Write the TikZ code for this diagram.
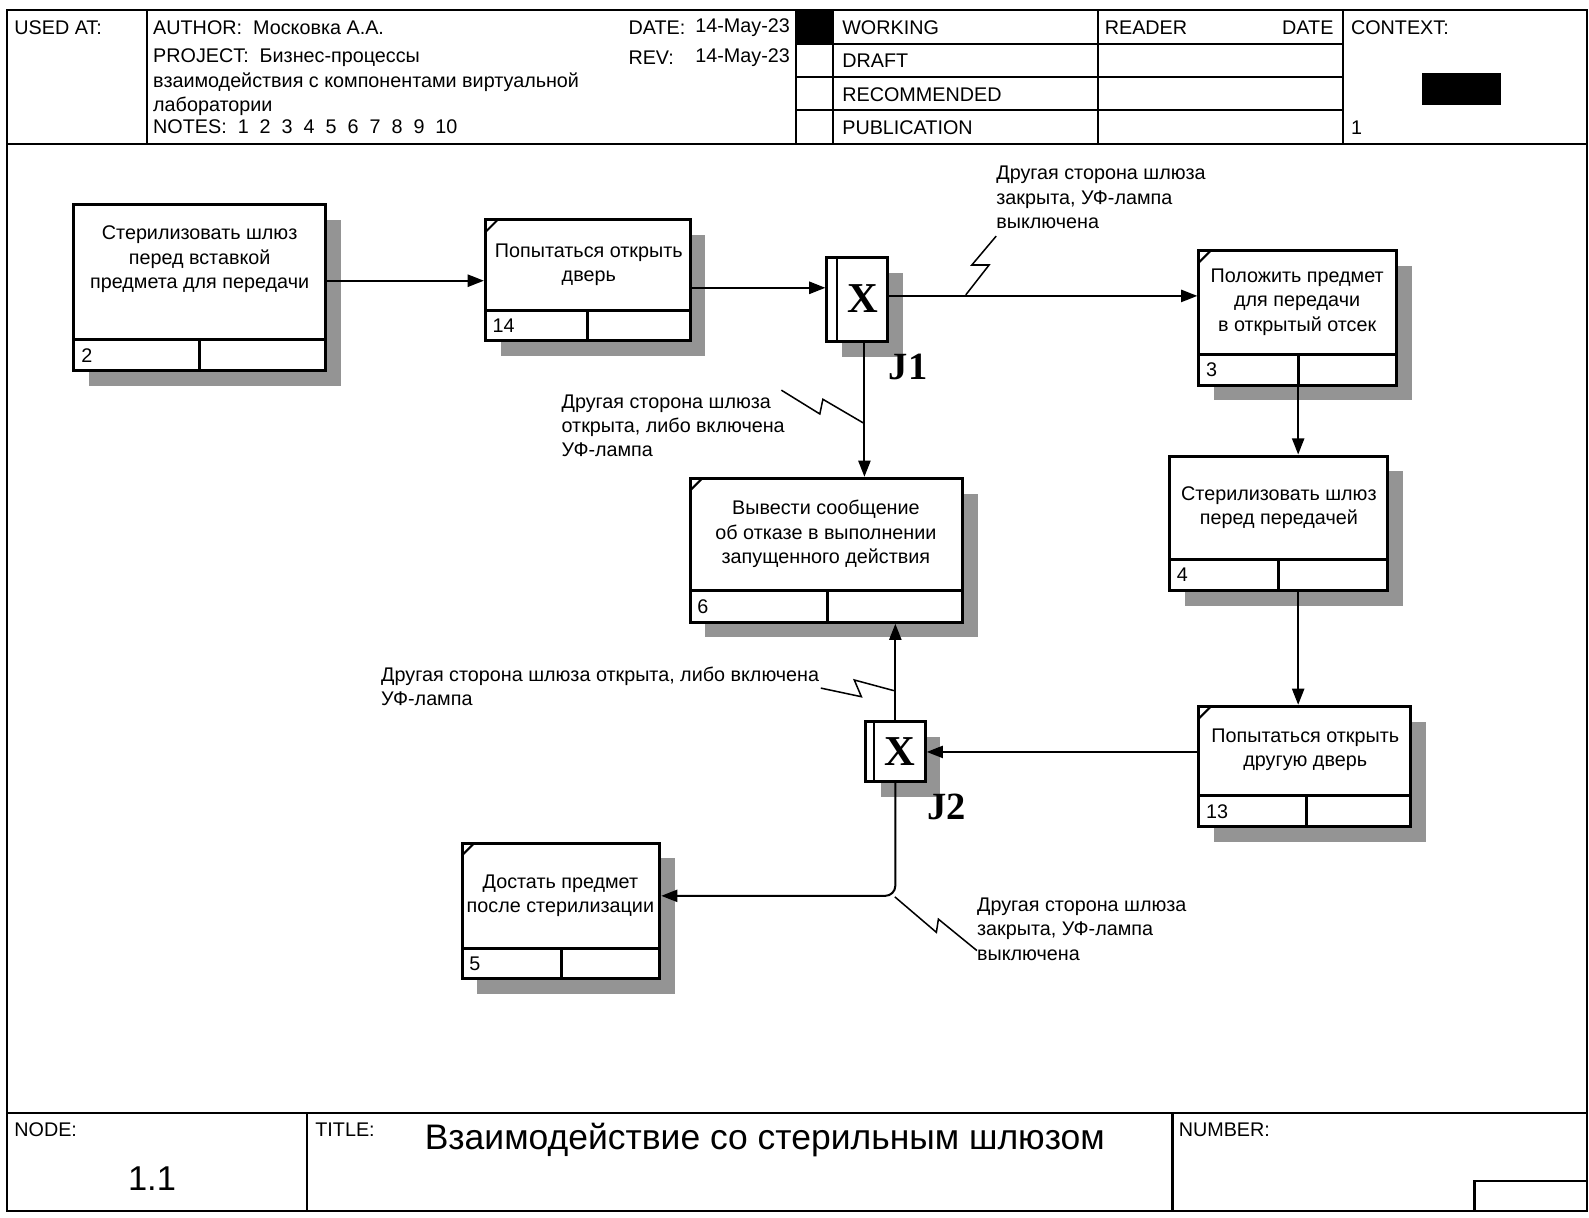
\documentclass[tikz,border=0pt]{standalone}
\usepackage{fontspec}
\setmainfont{Liberation Sans}
\newfontfamily\jfont{Liberation Serif}
\usetikzlibrary{arrows.meta}
\newcommand\actbox[9]{%
  \fill[shd] (#2+15,#3+15) rectangle (#4+15,#5+15);
  \node[boxst,minimum width={(#4-#2)*1pt},minimum height={(#5-#3)*1pt}] (#1) at ({(#2+#4)/2},{(#3+#5)/2}) {};
  \draw[line width=3pt] (#2,#6) -- (#4,#6) (#7,#6) -- (#7,#5);
  \node[lbl] (#1n) at (#2+7,{(#6+#5)/2}) {#8};
  \ifnum#9=1 \draw[line width=2pt] (#2,#3+12) -- (#2+12,#3);\fi
}
\begin{document}
\begin{tikzpicture}[x=1pt,y=-1pt,
  frm/.style={line width=2pt},
  boxst/.style={draw,line width=3pt,fill=white,inner sep=0pt},
  shd/.style={fill=black!42},
  conn/.style={line width=2pt,-{Triangle[length=16pt,width=12pt]}},
  sq/.style={line width=1.5pt},
  lbl/.style={font=\fontsize{19.5}{24}\selectfont,inner sep=0pt,anchor=west,align=left},
  btxt/.style={font=\fontsize{19.5}{24}\selectfont,align=center,inner sep=0pt},
  jx/.style={font=\jfont\bfseries\fontsize{42}{42}\selectfont,inner sep=0pt},
  jl/.style={font=\jfont\bfseries\fontsize{38}{38}\selectfont,inner sep=0pt},
]
\useasboundingbox[fill=white] (0,0) rectangle (1568,1201);
% ---------- frame ----------
\draw[frm] (7,10) rectangle (1566,1195);
\draw[frm] (7,142) -- (1566,142);
\draw[frm] (7,1098) -- (1566,1098);
\draw[frm] (145,10) -- (145,142) (785,10) -- (785,142) (822,10) -- (822,142)
  (1083,10) -- (1083,142) (1325,10) -- (1325,142);
\draw[frm] (785,43) -- (1325,43) (785,76) -- (1325,76) (785,109) -- (1325,109);
\fill (785,10) rectangle (822,43);
\fill (1403,72) rectangle (1481,104);
\draw[frm] (303,1098) -- (303,1195) (1157,1098) -- (1157,1195);
\draw[frm] (1455,1195) -- (1455,1165) -- (1566,1165);
% header texts
\node[lbl] (usedat) at (14,27) {USED AT:};
\node[lbl] (author) at (151,27) {AUTHOR:\ \ Московка А.А.};
\node[lbl] (datel) at (620,27) {DATE:};
\node[lbl] (datev) at (686,27) {14-May-23};
\node[lbl] (proj) at (151,57) {PROJECT:\ \ Бизнес-процессы};
\node[lbl] (revl) at (620,57) {REV:};
\node[lbl] (revv) at (686,57) {14-May-23};
\node[lbl] (proj2) at (151,81) {взаимодействия с компонентами виртуальной};
\node[lbl] (proj3) at (151,105) {лаборатории};
\node[lbl] (notes) at (151,125) {NOTES:\ \ 1\ \ 2\ \ 3\ \ 4\ \ 5\ \ 6\ \ 7\ \ 8\ \ 9\ \ 10};
\node[lbl] (working) at (831,27) {WORKING};
\node[lbl] (draft) at (831,60) {DRAFT};
\node[lbl] (recom) at (831,93) {RECOMMENDED};
\node[lbl] (publ) at (831,126) {PUBLICATION};
\node[lbl] (reader) at (1090,27) {READER};
\node[lbl,anchor=east] (rdate) at (1316,27) {DATE};
\node[lbl] (context) at (1333,27) {CONTEXT:};
\node[lbl] (ctxnum) at (1333,126) {1};
% footer texts
\node[lbl] (nodel) at (14,1115) {NODE:};
\node[lbl] (titlel) at (311,1115) {TITLE:};
\node[lbl] (numberl) at (1163,1115) {NUMBER:};
\node[lbl,font=\fontsize{35}{38}\selectfont] (title) at (419,1125) {Взаимодействие со стерильным шлюзом};
\node[font=\fontsize{34}{36}\selectfont,inner sep=0pt] (nodenum) at (150,1163) {1.1};
% ---------- activity boxes ----------
\actbox{b2}{73}{202}{321}{366}{335}{197}{2}{0}
\node[btxt] (b2t) at (197,256) {Стерилизовать шлюз\\перед вставкой\\предмета для передачи};
\actbox{b14}{479}{217}{681}{336}{306}{580}{14}{1}
\node[btxt] (b14t) at (581,261) {Попытаться открыть\\дверь};
\actbox{b3}{1183}{247}{1378}{380}{350}{1281}{3}{1}
\node[btxt] (b3t) at (1280,298) {Положить предмет\\для передачи\\в открытый отсек};
\actbox{b4}{1154}{450}{1369}{583}{552}{1262}{4}{0}
\node[btxt] (b4t) at (1262,501) {Стерилизовать шлюз\\перед передачей};
\actbox{b13}{1183}{697}{1392}{816}{785}{1289}{13}{1}
\node[btxt] (b13t) at (1288,740) {Попытаться открыть\\другую дверь};
\actbox{b6}{681}{472}{950}{614}{583}{817}{6}{1}
\node[btxt] (b6t) at (815,527) {Вывести сообщение\\об отказе в выполнении\\запущенного действия};
\actbox{b5}{456}{832}{651}{966}{936}{554}{5}{1}
\node[btxt] (b5t) at (553,884) {Достать предмет\\после стерилизации};
% ---------- junctions ----------
\fill[shd] (831,269) rectangle (891,352);
\node[boxst,minimum width=60pt,minimum height=83pt] (j1) at (846,295.5) {};
\draw[line width=2pt] (826,254) -- (826,337);
\node[jx] (j1x) at (851,295) {X};
\node[jl] (j1l) at (896,362) {J1};
\fill[shd] (869,727) rectangle (928,786);
\node[boxst,minimum width=59pt,minimum height=59pt] (j2) at (883.5,741.5) {};
\draw[line width=2pt] (862,712) -- (862,771);
\node[jx] (j2x) at (888,742) {X};
\node[jl] (j2l) at (934,796) {J2};
% ---------- connectors ----------
\draw[conn] (b2.east |- 0,277) -- (b14.west |- 0,277);
\draw[conn] (b14.east |- 0,284) -- (j1.west |- 0,284);
\draw[conn] (j1.east |- 0,292) -- (b3.west |- 0,292);
\draw[conn] (j1.south -| 853,0) -- (b6.north -| 853,0);
\draw[conn] (b3.south -| 1281,0) -- (b4.north -| 1281,0);
\draw[conn] (b4.south -| 1281,0) -- (b13.north -| 1281,0);
\draw[conn] (b13.west |- 0,742) -- (j2.east |- 0,742);
\draw[conn] (j2.north) -- (b6.south -| j2.north);
\draw[conn,rounded corners=10pt] (j2.south) -- (j2.south |- 0,884) -- (b5.east |- 0,884);
% ---------- squiggles and labels ----------
\draw[sq] (953,291) -- (976,261.5) -- (959,261.5) -- (983,233);
\node[lbl] (l1) at (983,195) {Другая сторона шлюза\\закрыта, УФ-лампа\\выключена};
\draw[sq] (771,385) -- (809,408.5) -- (812,394) -- (853,418);
\node[lbl] (l2) at (554,420) {Другая сторона шлюза\\открыта, либо включена\\УФ-лампа};
\draw[sq] (810,679) -- (850,687.5) -- (843,671) -- (882,681.5);
\node[lbl] (l3) at (376,677) {Другая сторона шлюза открыта, либо включена\\УФ-лампа};
\draw[sq] (883,885) -- (924,920) -- (926,907) -- (964,938);
\node[lbl] (l4) at (964,917) {Другая сторона шлюза\\закрыта, УФ-лампа\\выключена};
\end{tikzpicture}
\end{document}
